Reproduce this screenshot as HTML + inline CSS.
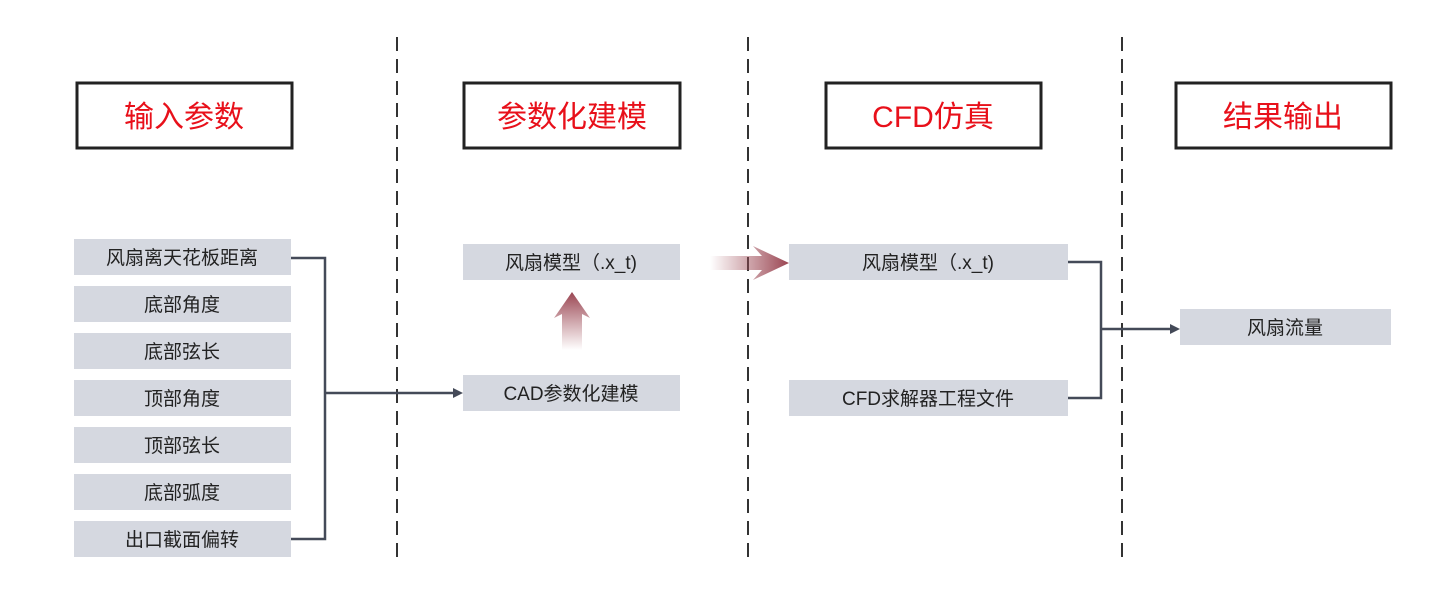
<!DOCTYPE html>
<html><head><meta charset="utf-8"><style>
body{margin:0;background:#fff;}
svg text{font-family:"Liberation Sans","Noto Sans CJK SC",sans-serif;}
</style></head><body>
<svg width="1447" height="610" xmlns="http://www.w3.org/2000/svg">
<defs>
<linearGradient id="gv" x1="0" y1="1" x2="0" y2="0"><stop offset="0" stop-color="#a0505a" stop-opacity="0"/><stop offset="1" stop-color="#9a4552"/></linearGradient>
<linearGradient id="gh" x1="0" y1="0" x2="1" y2="0"><stop offset="0" stop-color="#a0505a" stop-opacity="0"/><stop offset="1" stop-color="#9a4552"/></linearGradient>
</defs>
<g stroke="#333" stroke-width="2" stroke-dasharray="14,8">
<line x1="397" y1="37" x2="397" y2="558"/><line x1="748" y1="37" x2="748" y2="558"/><line x1="1122" y1="37" x2="1122" y2="558"/>
</g>
<g fill="#fff" stroke="#222" stroke-width="3">
<rect x="77" y="83" width="215" height="65"/><rect x="464" y="83" width="216" height="65"/><rect x="826" y="83" width="215" height="65"/><rect x="1176" y="83" width="215" height="65"/>
</g>
<g fill="#e8101a" font-size="30" text-anchor="middle">
<text x="184" y="127">输入参数</text><text x="572" y="127">参数化建模</text><text x="933" y="127">CFD仿真</text><text x="1283" y="127">结果输出</text>
</g>
<g fill="#d5d8e0">
<rect x="74" y="239" width="217" height="36"/><rect x="74" y="286" width="217" height="36"/><rect x="74" y="333" width="217" height="36"/><rect x="74" y="380" width="217" height="36"/><rect x="74" y="427" width="217" height="36"/><rect x="74" y="474" width="217" height="36"/><rect x="74" y="521" width="217" height="36"/>
<rect x="463" y="244" width="217" height="36"/><rect x="463" y="375" width="217" height="36"/>
<rect x="789" y="244" width="279" height="36"/><rect x="789" y="380" width="279" height="36"/>
<rect x="1180" y="309" width="211" height="36"/>
</g>
<g fill="#222" font-size="19" text-anchor="middle">
<text x="182" y="264">风扇离天花板距离</text><text x="182" y="311">底部角度</text><text x="182" y="358">底部弦长</text><text x="182" y="405">顶部角度</text><text x="182" y="452">顶部弦长</text><text x="182" y="499">底部弧度</text><text x="182" y="546">出口截面偏转</text>
<text x="571" y="269">风扇模型（.x_t)</text><text x="571" y="400">CAD参数化建模</text>
<text x="928" y="269">风扇模型（.x_t)</text><text x="928" y="405">CFD求解器工程文件</text>
<text x="1285" y="334">风扇流量</text>
</g>
<g fill="none" stroke="#444a58" stroke-width="2.5">
<polyline points="291,258 325,258 325,539 291,539"/>
<line x1="325" y1="393" x2="455" y2="393"/>
<polyline points="1068,262 1101,262 1101,398 1068,398"/>
<line x1="1101" y1="329" x2="1172" y2="329"/>
</g>
<g fill="#444a58"><polygon points="463,393 453,388 453,398"/><polygon points="1180,329 1170,324 1170,334"/></g>
<polygon points="562,350 582,350 582,314 590,318 572,292 554,318 562,314" fill="url(#gv)"/>
<polygon points="710,256 762,256 753,246 789,263 753,280 762,270 710,270" fill="url(#gh)"/>
</svg>
</body></html>
